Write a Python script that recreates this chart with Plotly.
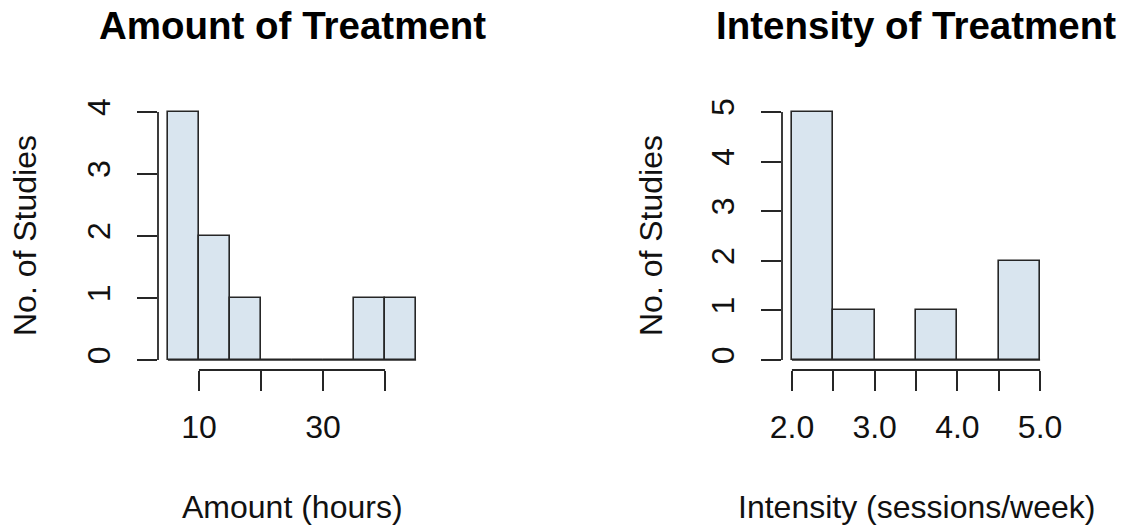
import plotly.graph_objects as go

# ---- data ----
amount_edges = [5, 10, 15, 20, 25, 30, 35, 40, 45]
amount_counts = [4, 2, 1, 0, 0, 0, 1, 1]
amount_xticks = [10, 20, 30, 40]
amount_xticktext = ["10", "", "30", ""]
amount_yticks = [0, 1, 2, 3, 4]

intensity_edges = [2.0, 2.5, 3.0, 3.5, 4.0, 4.5, 5.0]
intensity_counts = [5, 1, 0, 1, 0, 2]
intensity_xticks = [2.0, 2.5, 3.0, 3.5, 4.0, 4.5, 5.0]
intensity_xticktext = ["2.0", "", "3.0", "", "4.0", "", "5.0"]
intensity_yticks = [0, 1, 2, 3, 4, 5]

titles = ["Amount of Treatment", "Intensity of Treatment"]
xtitles = ["Amount (hours)", "Intensity (sessions/week)"]
ytitle = "No. of Studies"

# ---- style ----
W, H = 1125, 527
FILL = "#d9e5ef"
LINE = "#262626"
FONT = "Liberation Sans, Arial, Helvetica, sans-serif"
AX_SIZE = 32
TITLE_SIZE = 38.5

panels = [
    dict(edges=amount_edges, counts=amount_counts, xt=amount_xticks, xtt=amount_xticktext,
         yt=amount_yticks, px=(158, 426), ytx=25),
    dict(edges=intensity_edges, counts=intensity_counts, xt=intensity_xticks,
         xtt=intensity_xticktext, yt=intensity_yticks, px=(782, 1050), ytx=651),
]
py = (102, 370)  # top, bottom in pixels
ydom = [1 - py[1] / H, 1 - py[0] / H]

fig = go.Figure()
annotations = []
shapes = []
for i, p in enumerate(panels):
    xa = "x" if i == 0 else "x2"
    ya = "y" if i == 0 else "y2"
    edges, counts = p["edges"], p["counts"]
    widths = [edges[k + 1] - edges[k] for k in range(len(counts))]
    fig.add_trace(go.Bar(
        x=edges[:-1], y=counts, width=widths, offset=0,
        marker=dict(color=FILL, line=dict(color=LINE, width=1.6)),
        xaxis=xa, yaxis=ya, showlegend=False, hoverinfo="x+y",
    ))
    # baseline (zero-height bins drawn as flat line, as in R hist)
    fig.add_trace(go.Scatter(
        x=[edges[0], edges[-1]], y=[0, 0], mode="lines",
        line=dict(color=LINE, width=1.6), xaxis=xa, yaxis=ya,
        showlegend=False, hoverinfo="skip",
    ))
    xr = edges[-1] - edges[0]
    yr = max(p["yt"]) - min(p["yt"])
    xrange = [edges[0] - 0.04 * xr, edges[-1] + 0.04 * xr]
    yrange = [min(p["yt"]) - 0.04 * yr, max(p["yt"]) + 0.04 * yr]
    xdom = [p["px"][0] / W, p["px"][1] / W]
    suffix = "" if i == 0 else "2"
    fig.update_layout(**{
        "xaxis" + suffix: dict(
            domain=xdom, range=xrange, anchor=ya, showgrid=False, zeroline=False,
            showline=False, ticks="outside", ticklen=20, tickwidth=1.8, tickcolor=LINE,
            tickvals=p["xt"], ticktext=p["xtt"], tickfont=dict(size=AX_SIZE, color="#111"),
            ticklabelstandoff=9, fixedrange=True, automargin=False,
        ),
        "yaxis" + suffix: dict(
            domain=ydom, range=yrange, anchor=xa, showgrid=False, zeroline=False,
            showline=False, ticks="outside", ticklen=20, tickwidth=1.8, tickcolor=LINE,
            tickvals=p["yt"], tickangle=-90, tickfont=dict(size=AX_SIZE, color="#111"),
            ticklabelstandoff=14, fixedrange=True, automargin=False,
        ),
    })
    # R-style axis lines spanning only the tick range
    shapes.append(dict(type="line", xref=xa + " domain", yref=ya,
                       x0=0, x1=0, y0=min(p["yt"]), y1=max(p["yt"]),
                       line=dict(color=LINE, width=1.8)))
    shapes.append(dict(type="line", xref=xa, yref=ya + " domain",
                       x0=p["xt"][0], x1=p["xt"][-1], y0=0, y1=0,
                       line=dict(color=LINE, width=1.8)))
    cx = (xdom[0] + xdom[1]) / 2
    annotations.append(dict(text="<b>" + titles[i] + "</b>", x=cx, y=1 - 25 / H,
                            xref="paper", yref="paper", xanchor="center", yanchor="middle",
                            showarrow=False, font=dict(size=TITLE_SIZE, color="#000")))
    annotations.append(dict(text=xtitles[i], x=cx, y=1 - 507 / H,
                            xref="paper", yref="paper", xanchor="center", yanchor="middle",
                            showarrow=False, font=dict(size=AX_SIZE, color="#111")))
    annotations.append(dict(text=ytitle, x=p["ytx"] / W, y=(ydom[0] + ydom[1]) / 2,
                            xref="paper", yref="paper", xanchor="center", yanchor="middle",
                            textangle=-90, showarrow=False,
                            font=dict(size=AX_SIZE, color="#111")))

fig.update_layout(
    width=W, height=H, margin=dict(l=0, r=0, t=0, b=0, autoexpand=False),
    paper_bgcolor="white", plot_bgcolor="white",
    font=dict(family=FONT, color="#111"),
    bargap=0, annotations=annotations, shapes=shapes,
)

fig.write_html("out.html")
